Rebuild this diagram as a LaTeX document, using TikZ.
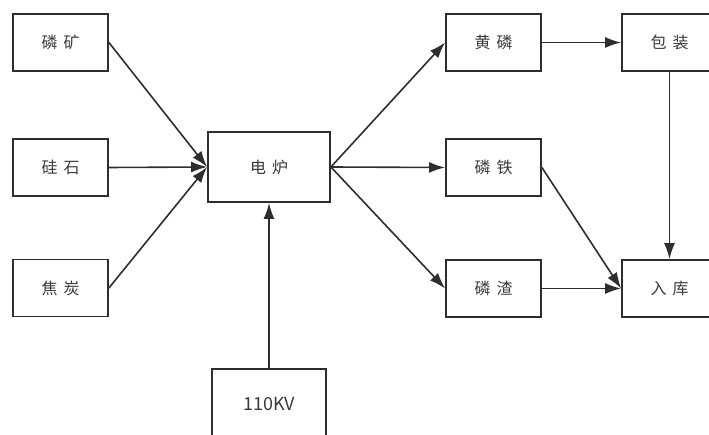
\documentclass[tikz,border=0pt]{standalone}
\usepackage{fontspec}
\setmainfont{Noto Sans CJK SC}
\usetikzlibrary{arrows.meta}
\definecolor{linegray}{HTML}{2E2E2E}
\definecolor{textgray}{HTML}{3A3A3A}
\begin{document}
\begin{tikzpicture}[x=1pt,y=-1pt,
    box/.style={draw=linegray,line width=1.8pt,fill=white,
      minimum width=95pt,minimum height=57pt,inner sep=0pt,
      text=textgray,font=\fontsize{16pt}{18pt}\selectfont},
    bigbox/.style={box,minimum width=122pt,minimum height=70pt},
    flow/.style={draw=linegray,line width=1.6pt,
      -{Latex[length=16pt,width=11pt]}}]
  \useasboundingbox (0,0) rectangle (709,435);
  \clip (0,0) rectangle (709,435);
  % raw materials
  \node[box] (ore)  at (60.5,42.5)  {磷\hspace{6pt}矿};
  \node[box] (silica) at (60.5,167.5) {硅\hspace{6pt}石};
  \node[box] (coke) at (60.5,288)   {焦\hspace{6pt}炭};
  % furnace and power
  \node[bigbox] (furnace) at (269,167) {电\hspace{6pt}炉};
  \node[bigbox,minimum width=114pt,
        font=\fontsize{18pt}{20pt}\selectfont] (power) at (269,404) {110KV};
  % products
  \node[box] (phos) at (493.5,42.5)  {黄\hspace{6pt}磷};
  \node[box] (iron) at (493.5,167.5) {磷\hspace{6pt}铁};
  \node[box] (slag) at (493.5,288.5) {磷\hspace{6pt}渣};
  \node[box] (pack) at (669.5,42.5)  {包\hspace{6pt}装};
  \node[box] (store) at (669.5,288.5) {入\hspace{6pt}库};
  % connectors
  \draw[flow] (ore.east)    -- (furnace.west);
  \draw[flow] (silica.east) -- (furnace.west);
  \draw[flow] (coke.east)   -- (furnace.west);
  \draw[flow] (power.north) -- (furnace.south);
  \draw[flow] (furnace.east) -- (phos.west);
  \draw[flow] (furnace.east) -- (iron.west);
  \draw[flow] (furnace.east) -- (slag.west);
  \draw[flow] (phos.east)  -- (pack.west);
  \draw[flow] (pack.south) -- (store.north);
  \draw[flow] (iron.east)  -- (store.west);
  \draw[flow] (slag.east)  -- (store.west);
\end{tikzpicture}
\end{document}
